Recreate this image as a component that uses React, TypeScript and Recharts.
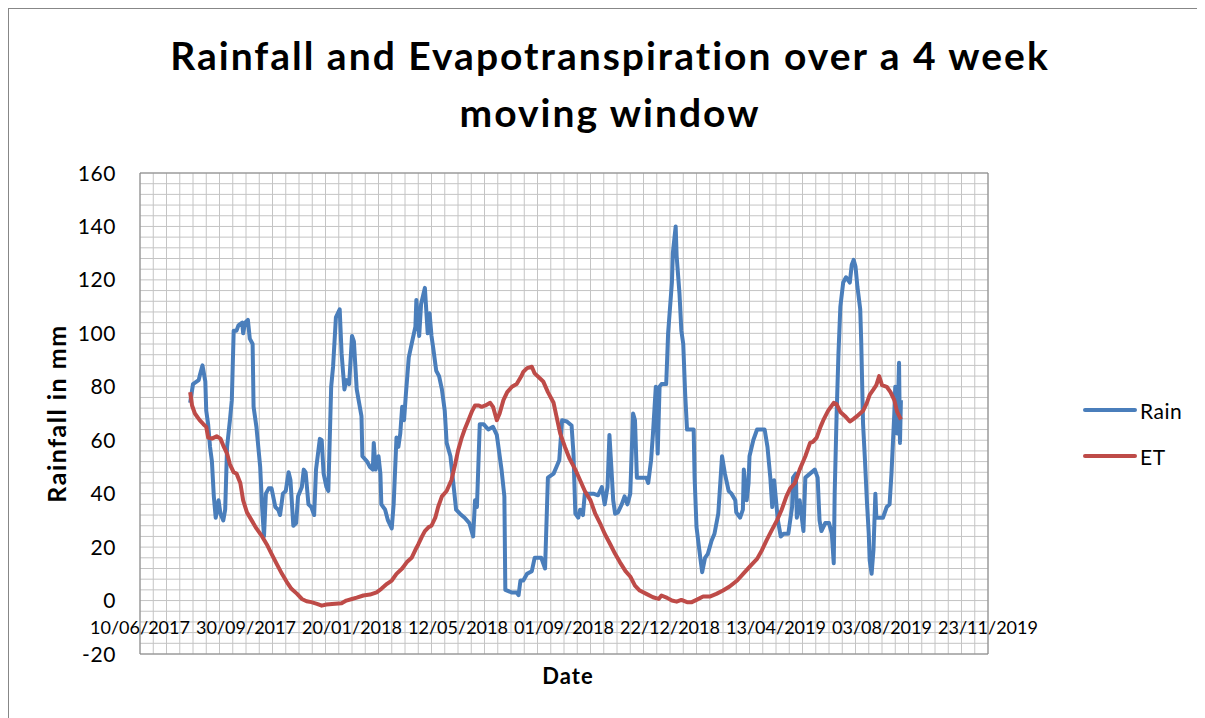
import React from 'react';
import { LineChart, Line, XAxis, YAxis, CartesianGrid, Legend, Label } from 'recharts';

// Day offsets are counted from 10/06/2017 (first axis tick)
const dateTickLabels = [
  '10/06/2017', '30/09/2017', '20/01/2018', '12/05/2018', '01/09/2018',
  '22/12/2018', '13/04/2019', '03/08/2019', '23/11/2019',
];
const seriesOrder = ['Rain', 'ET'];
const MAJOR_DAYS = 112;
const MINOR_DAYS = 14;
const X_MAX = 896;
const Y_MIN = -20;
const Y_MAX = 160;

const rainDay = [
  53, 56, 62, 63, 66, 69, 70, 72, 74, 76, 78, 80, 83, 85, 88, 90, 92, 95, 97, 99,
  102, 104, 108, 109, 111, 114, 116, 119, 120, 123, 127, 129, 131, 133, 136, 139, 143, 146, 148, 151,
  154, 157, 159, 162, 165, 167, 171, 173, 175, 178, 181, 184, 186, 190, 192, 194, 197, 199, 202, 204,
  207, 211, 213, 216, 218, 221, 224, 226, 229, 231, 234, 235, 240, 243, 246, 247, 249, 252, 254, 255,
  259, 262, 266, 268, 271, 273, 275, 277, 279, 281, 284, 287, 291, 292, 295, 297, 299, 301, 304, 306,
  308, 310, 313, 316, 319, 322, 324, 328, 330, 334, 338, 343, 348, 352, 354, 356, 359, 363, 368, 373,
  377, 382, 385, 386, 393, 398, 400, 402, 405, 409, 414, 417, 424, 428, 431, 437, 440, 443, 446, 451,
  456, 458, 460, 463, 465, 468, 470, 479, 484, 488, 491, 494, 496, 498, 500, 502, 505, 509, 512, 515,
  518, 521, 523, 525, 535, 537, 540, 542, 545, 547, 549, 551, 556, 558, 562, 563, 566, 567, 570, 572,
  574, 576, 578, 585, 586, 588, 592, 594, 597, 600, 604, 607, 611, 615, 618, 622, 625, 629, 630, 634,
  637, 638, 641, 643, 644, 648, 652, 660, 663, 666, 668, 670, 672, 674, 677, 680, 685, 689, 690, 693,
  694, 697, 701, 703, 713, 716, 718, 720, 724, 728, 731, 733, 734, 736, 738, 740, 743, 746, 748, 750,
  752, 754, 756, 758, 761, 762, 764, 766, 768, 770, 771, 773, 775, 777, 778, 785, 789, 792, 794, 797,
  798, 800, 802, 803, 804,
];
const rainMm = [
  74, 81, 82.5, 84, 88, 82, 71, 66, 57.5, 52, 39, 31, 37.5, 32.5, 30, 34, 57.5, 67.5, 75, 101,
  101, 103, 104, 100, 104, 105, 98, 96, 72.5, 65, 50, 35, 24, 40, 42, 42, 35, 34, 32, 40,
  41, 48, 45, 28, 29, 39, 42.5, 49, 48, 36, 35, 32, 49, 60.5, 60, 47.5, 42.5, 41, 80, 87.5,
  106, 109, 92.5, 79, 82.5, 81, 99, 97, 79, 75, 69, 54, 52, 50, 49, 59, 49, 54, 47.5, 36,
  34, 30, 27, 36, 61, 57.5, 62.5, 72.5, 67.5, 77.5, 91, 96, 102.5, 112.5, 99, 111, 114, 117, 100, 107.5,
  99, 94, 86, 84, 79, 71, 59, 54, 47.5, 34, 32.5, 31, 29, 24, 37.5, 35, 66, 66, 64, 65,
  62, 49, 39, 4, 3, 3, 2, 7.5, 7.5, 10, 11, 16, 16, 12, 46, 47.5, 50, 52.5, 67.5, 67,
  65.5, 55, 32.5, 31, 34, 32, 40, 40, 39.4, 42.5, 36, 42.5, 62, 50, 37.5, 32.5, 33, 36, 39, 36,
  40, 70, 67.5, 46, 46, 44, 52.5, 62.5, 80, 55, 80, 81, 81, 100, 119, 130, 140, 129, 115, 101,
  96, 77.5, 64, 64, 46, 27.5, 16, 10.6, 16, 17.5, 22.5, 25, 32.5, 54, 47.5, 41, 40, 37.5, 33, 31,
  34, 49, 37.5, 44, 54, 60, 64, 64, 57.5, 46, 35, 45, 37.5, 30, 24, 25, 25, 35, 46, 47.5,
  31, 37.5, 26, 46, 49, 46, 30, 26, 29, 29, 25, 14, 40, 69, 92.5, 110, 119, 121, 120, 119,
  125.6, 127.5, 125, 117.5, 109, 97.5, 66, 52.5, 37.5, 25, 15, 10, 19, 40, 31, 31, 35, 36, 47.5, 70,
  80, 62.5, 89, 59, 75,
];

const etDay = [
  53, 55, 58, 63, 67, 70, 72, 76, 81, 85, 88, 92, 95, 99, 102, 106, 109, 113, 118, 123,
  129, 134, 139, 144, 150, 155, 160, 166, 171, 176, 181, 187, 192, 197, 203, 213, 218, 224, 229, 236,
  243, 250, 255, 261, 266, 271, 277, 282, 287, 291, 294, 298, 301, 305, 308, 312, 315, 319, 324, 329,
  333, 336, 340, 343, 347, 351, 354, 358, 361, 365, 370, 373, 377, 380, 384, 388, 393, 398, 403, 405,
  409, 414, 417, 423, 426, 431, 437, 440, 444, 449, 454, 460, 465, 470, 476, 481, 486, 491, 497, 502,
  507, 513, 518, 523, 528, 535, 542, 548, 551, 557, 562, 567, 572, 578, 583, 588, 595, 602, 609, 616,
  623, 631, 638, 645, 652, 657, 662, 667, 673, 678, 683, 687, 692, 697, 703, 708, 711, 715, 719, 722,
  727, 733, 736, 740, 745, 750, 754, 759, 764, 768, 771, 775, 778, 781, 784, 789, 793, 797, 800, 804,
];
const etMm = [
  78, 73, 70, 67.5, 66, 65, 61, 60.6, 61.5, 60.6, 58, 55, 51, 48, 47.5, 44, 37.5, 33, 30, 27,
  24, 21, 17.5, 14, 10, 7, 4.4, 2.5, 0.6, -0.25, -0.6, -1.25, -1.9, -1.5, -1.25, -1, 0, 0.6, 1.1, 1.9,
  2.25, 3.1, 4.4, 6.25, 7.5, 10, 12, 14.4, 16, 19, 21, 24, 26, 27.5, 28, 31, 35, 39, 41, 45,
  51, 56, 61, 64, 67.5, 71, 73, 73, 72.5, 73, 74, 72.5, 67.5, 70, 75, 78, 80, 81, 84, 85.6,
  87, 87.5, 85, 83, 82, 78, 74, 69, 62.5, 57.5, 53, 49, 45, 41, 37.5, 32.5, 29, 25, 21, 17.5,
  14.4, 11, 9, 5.6, 3.75, 2.5, 1.25, 0.6, 1.9, 1, 0, -0.4, 0.25, -0.6, -0.6, 0.25, 1.5, 1.5, 2.5, 3.75,
  5.25, 7.5, 10.25, 13, 15.6, 18.75, 22.5, 26, 30, 34, 39, 42, 44, 49, 54, 59, 59.4, 61, 65, 67.5,
  71, 74, 73.5, 70.6, 69, 67, 68, 69.4, 71, 74, 77, 79, 80.6, 84, 80.6, 80, 78, 75, 70.6, 67.75,
];

const RAIN_COLOR = '#4A7EBB';
const ET_COLOR = '#BE4B48';
const FONT = "Lato, 'Open Sans', sans-serif";

const rainData = rainDay.map((d, i) => ({ day: d, value: rainMm[i] }));
const etData = etDay.map((d, i) => ({ day: d, value: etMm[i] }));

const range = (start: number, end: number, step: number) => {
  const out: number[] = [];
  for (let v = start; v <= end + 1e-9; v += step) out.push(v);
  return out;
};
const xMinorTicks = range(0, X_MAX, MINOR_DAYS);
const xMajorTicks = range(0, X_MAX, MAJOR_DAYS);
const yMinorTicks = range(Y_MIN, Y_MAX, 4);
const yMajorTicks = range(Y_MIN, Y_MAX, 20);

const XTick = (props: any) => {
  const { x, y, payload } = props;
  const v = payload.value;
  if (v % MAJOR_DAYS !== 0) return <g />;
  return (
    <text x={x} y={y - 20} textAnchor="middle" fontSize={18} fontFamily={FONT} fill="#000">
      {dateTickLabels[Math.round(v / MAJOR_DAYS)]}
    </text>
  );
};

const YTick = (props: any) => {
  const { x, y, payload } = props;
  const v = payload.value;
  if (v % 20 !== 0) return <g />;
  return (
    <text
      x={x - 24}
      y={y}
      dy="0.36em"
      textAnchor="end"
      fontSize={21}
      letterSpacing={0.6}
      fontFamily={FONT}
      fill="#000"
    >
      {v}
    </text>
  );
};

const LegendContent = (props: any) => {
  const items = ((props.payload || []) as any[])
    .slice()
    .sort((a, b) => seriesOrder.indexOf(a.value) - seriesOrder.indexOf(b.value));
  return (
    <div style={{ fontFamily: FONT }}>
      {items.map((it) => (
        <div key={it.value} style={{ height: 46, display: 'flex', alignItems: 'center' }}>
          <span
            style={{
              display: 'inline-block', width: 54, height: 4, borderRadius: 2,
              background: it.color, marginRight: 3,
            }}
          />
          <span style={{ fontSize: 21, letterSpacing: 0.5, color: '#000' }}>{it.value}</span>
        </div>
      ))}
    </div>
  );
};

export default function App() {
  return (
    <div
      style={{
        position: 'relative', width: 1192, height: 712, border: '1px solid #878787',
        boxSizing: 'border-box', background: '#fff', fontFamily: FONT,
      }}
    >
      <div
        style={{
          position: 'absolute', left: 6, top: 18, width: 1190, textAlign: 'center',
          fontSize: 39, fontWeight: 700, lineHeight: '57px', letterSpacing: 2, color: '#000',
        }}
      >
        Rainfall and Evapotranspiration over a 4 week
        <br />
        moving window
      </div>
      <LineChart
        width={1190}
        height={700}
        margin={{ top: 164, right: 211, bottom: 25, left: 71 }}
        style={{ position: 'absolute', left: 0, top: 0 }}
      >
        <XAxis
          xAxisId="x"
          dataKey="day"
          type="number"
          domain={[0, X_MAX]}
          ticks={xMinorTicks}
          interval={0}
          allowDataOverflow
          tick={<XTick />}
          tickLine={false}
          axisLine={false}
          tickSize={0}
          tickMargin={0}
          height={30}
        >
          <Label
            content={(p: any) => {
              const vb = p.viewBox || {};
              return (
                <text
                  x={vb.x + vb.width / 2 + 4}
                  y={vb.y + 30}
                  textAnchor="middle"
                  fontSize={22}
                  letterSpacing={1}
                  fontWeight={700}
                  fontFamily={FONT}
                  fill="#000"
                >
                  Date
                </text>
              );
            }}
          />
        </XAxis>
        <XAxis xAxisId="xm" dataKey="day" type="number" domain={[0, X_MAX]} ticks={xMajorTicks} interval={0} hide />
        <YAxis
          yAxisId="y"
          type="number"
          domain={[Y_MIN, Y_MAX]}
          ticks={yMinorTicks}
          interval={0}
          allowDataOverflow
          tick={<YTick />}
          tickLine={false}
          axisLine={false}
          tickSize={0}
          tickMargin={0}
          width={60}
        >
          <Label
            content={(p: any) => {
              const vb = p.viewBox || {};
              const cx = vb.x + vb.width - 84;
              const cy = vb.y + vb.height / 2;
              return (
                <text
                  x={cx}
                  y={cy}
                  transform={`rotate(-90, ${cx}, ${cy})`}
                  textAnchor="middle"
                  dominantBaseline="central"
                  fontSize={25}
                  letterSpacing={1.5}
                  fontWeight={700}
                  fontFamily={FONT}
                  fill="#000"
                >
                  Rainfall in mm
                </text>
              );
            }}
          />
        </YAxis>
        <YAxis yAxisId="ym" type="number" domain={[Y_MIN, Y_MAX]} ticks={yMajorTicks} interval={0} hide />
        <CartesianGrid xAxisId="x" yAxisId="y" stroke="#c4c4c4" strokeWidth={1} />
        <CartesianGrid xAxisId="xm" yAxisId="ym" stroke="#868686" strokeWidth={1} />
        <Legend
          layout="vertical"
          align="center"
          verticalAlign="middle"
          wrapperStyle={{ left: 1074, top: 378, width: 110 }}
          content={<LegendContent />}
        />
        <Line
          xAxisId="x"
          yAxisId="y"
          name="Rain"
          data={rainData}
          dataKey="value"
          stroke={RAIN_COLOR}
          strokeWidth={4}
          dot={false}
          activeDot={false}
          isAnimationActive={false}
          strokeLinejoin="round"
          type="linear"
        />
        <Line
          xAxisId="x"
          yAxisId="y"
          name="ET"
          data={etData}
          dataKey="value"
          stroke={ET_COLOR}
          strokeWidth={4}
          dot={false}
          activeDot={false}
          isAnimationActive={false}
          strokeLinejoin="round"
          type="linear"
        />
      </LineChart>
    </div>
  );
}
